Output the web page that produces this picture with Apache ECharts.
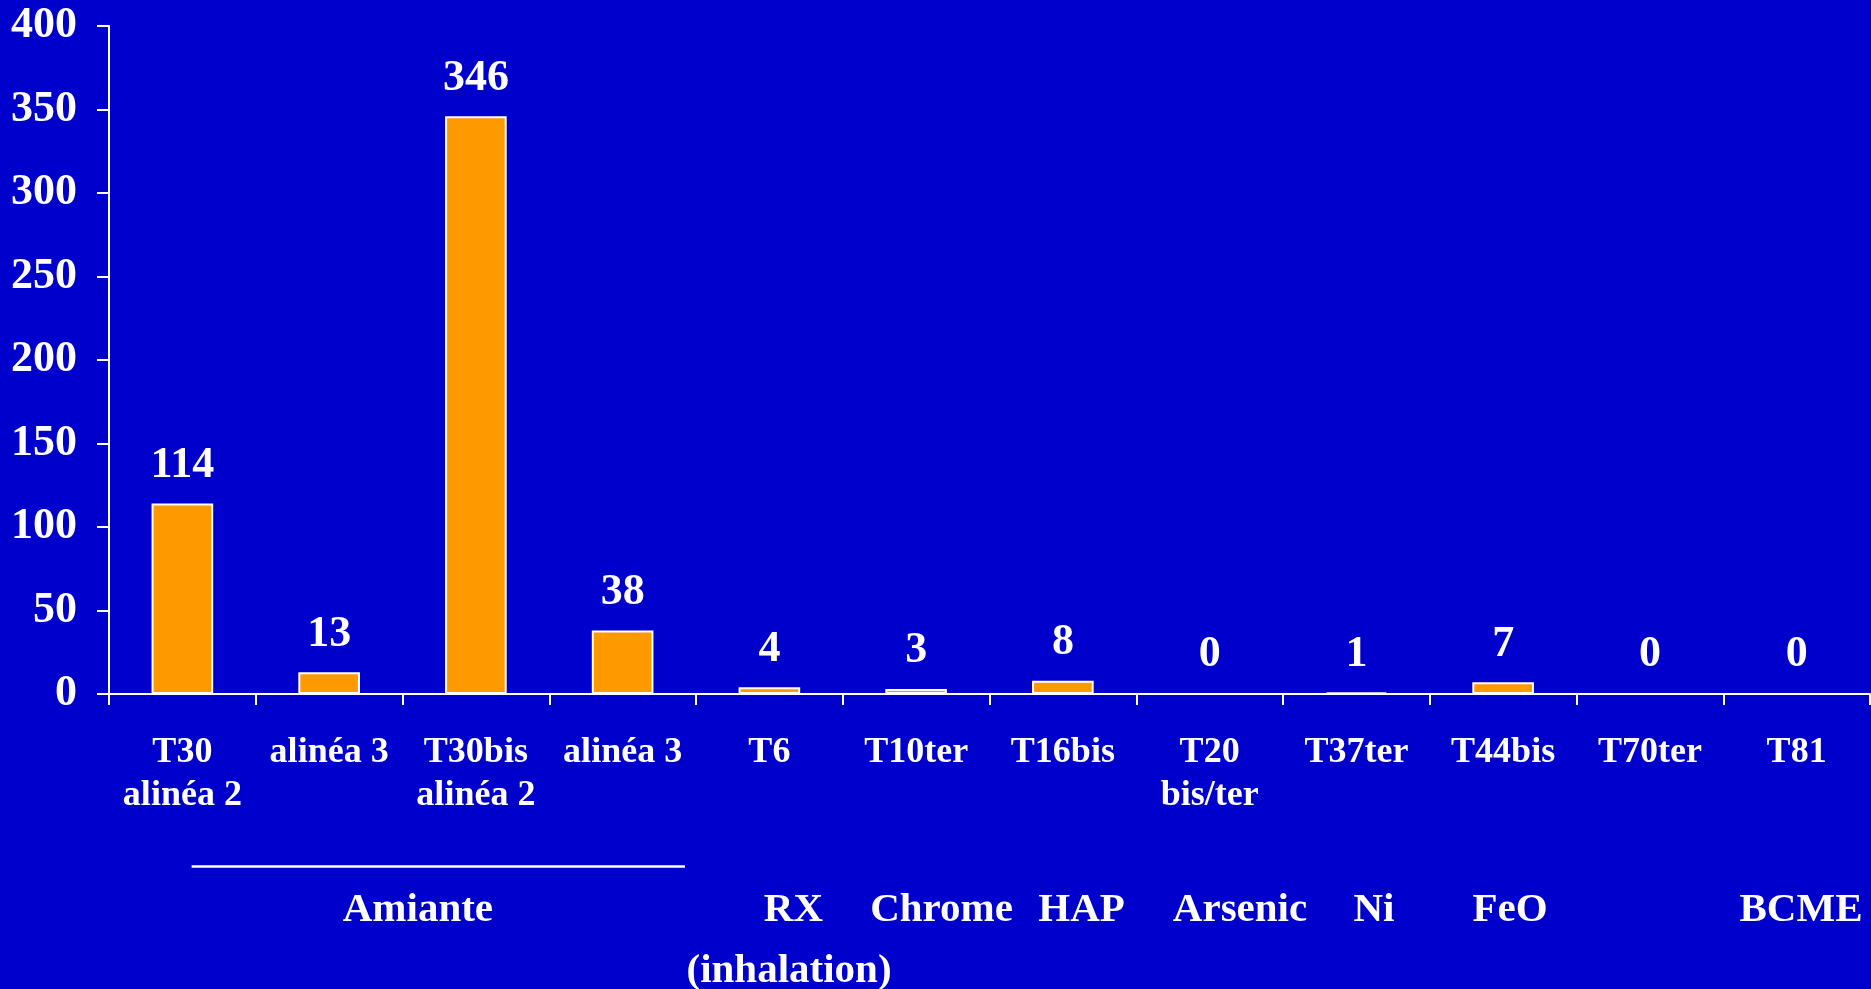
<!DOCTYPE html>
<html>
<head>
<meta charset="utf-8">
<title>Tableaux de maladies professionnelles</title>
<script src="https://cdn.jsdelivr.net/npm/echarts@6/dist/echarts.min.js"></script>
<style>
  html, body { margin: 0; padding: 0; background: #0000CC; }
  #chart { width: 1871px; height: 989px; }
</style>
</head>
<body>
<div id="chart"></div>
<script>
// Tableaux (categories) and number of cases per tableau
const categories = [
  'T30\nalinéa 2', 'alinéa 3', 'T30bis\nalinéa 2', 'alinéa 3',
  'T6', 'T10ter', 'T16bis', 'T20\nbis/ter', 'T37ter', 'T44bis', 'T70ter', 'T81'
];
const cases = [114, 13, 346, 38, 4, 3, 8, 0, 1, 7, 0, 0];

// Y axis range and tick step
const yMin = 0;
const yMax = 400;
const yStep = 50;

// Agent names under the tableaux, placed in category units along the x axis
const groupNames = ['Amiante', 'RX', '(inhalation)', 'Chrome', 'HAP', 'Arsenic', 'Ni', 'FeO', 'BCME'];
const groupPos   = [1.605, 4.164, 4.134, 5.173, 6.127, 7.207, 8.120, 9.047, 11.030];
const groupRow   = [0, 0, 1, 0, 0, 0, 0, 0, 0];
// Bracket line over the asbestos tableaux (category units)
const amianteSpan = [0.063, 3.425];

const FONT = '"Liberation Serif", "Times New Roman", serif';
const WHITE = '#FFFFFF';

const chart = echarts.init(document.getElementById('chart'), null, { renderer: 'canvas' });

chart.setOption({
  backgroundColor: '#0000CC',
  animation: false,
  grid: { left: 109, right: 1, top: 26, bottom: 295, containLabel: false },
  xAxis: {
    type: 'category',
    data: categories,
    boundaryGap: true,
    axisLine: { show: true, lineStyle: { color: WHITE, width: 2 } },
    axisTick: { show: true, length: 11, lineStyle: { color: WHITE, width: 2 } },
    axisLabel: {
      interval: 0,
      margin: 37,
      color: WHITE,
      fontFamily: FONT,
      fontWeight: 'bold',
      fontSize: 36,
      lineHeight: 43
    },
    splitLine: { show: false }
  },
  yAxis: {
    type: 'value',
    min: yMin,
    max: yMax,
    interval: yStep,
    axisLine: { show: true, lineStyle: { color: WHITE, width: 2 } },
    axisTick: { show: true, length: 12, lineStyle: { color: WHITE, width: 2 } },
    axisLabel: {
      margin: 32,
      padding: [5, 0, 0, 0],
      color: WHITE,
      fontFamily: FONT,
      fontWeight: 'bold',
      fontSize: 44
    },
    splitLine: { show: false }
  },
  series: [{
    type: 'bar',
    data: cases,
    barWidth: '42%',
    itemStyle: { color: '#FF9900', borderColor: WHITE, borderWidth: 2 },
    label: {
      show: true,
      position: 'top',
      distance: 16,
      color: WHITE,
      fontFamily: FONT,
      fontWeight: 'bold',
      fontSize: 44,
      lineHeight: 44
    }
  }]
});

// Agent names and the asbestos bracket, positioned from the category scale
function placeGroups() {
  const x0 = chart.convertToPixel({ xAxisIndex: 0 }, 0);
  const x1 = chart.convertToPixel({ xAxisIndex: 0 }, 1);
  const step = x1 - x0;
  const toX = p => x0 + step * p;
  const rowY = [910, 971];

  const elements = groupNames.map((name, i) => ({
    type: 'text',
    x: toX(groupPos[i]),
    y: rowY[groupRow[i]],
    style: {
      text: name,
      fill: WHITE,
      font: 'bold 41px ' + FONT,
      align: 'center',
      verticalAlign: 'middle'
    }
  }));

  elements.push({
    type: 'line',
    shape: { x1: toX(amianteSpan[0]), y1: 866.5, x2: toX(amianteSpan[1]), y2: 866.5 },
    style: { stroke: WHITE, lineWidth: 2.5 }
  });

  chart.setOption({ graphic: elements });
}

placeGroups();
</script>
</body>
</html>
